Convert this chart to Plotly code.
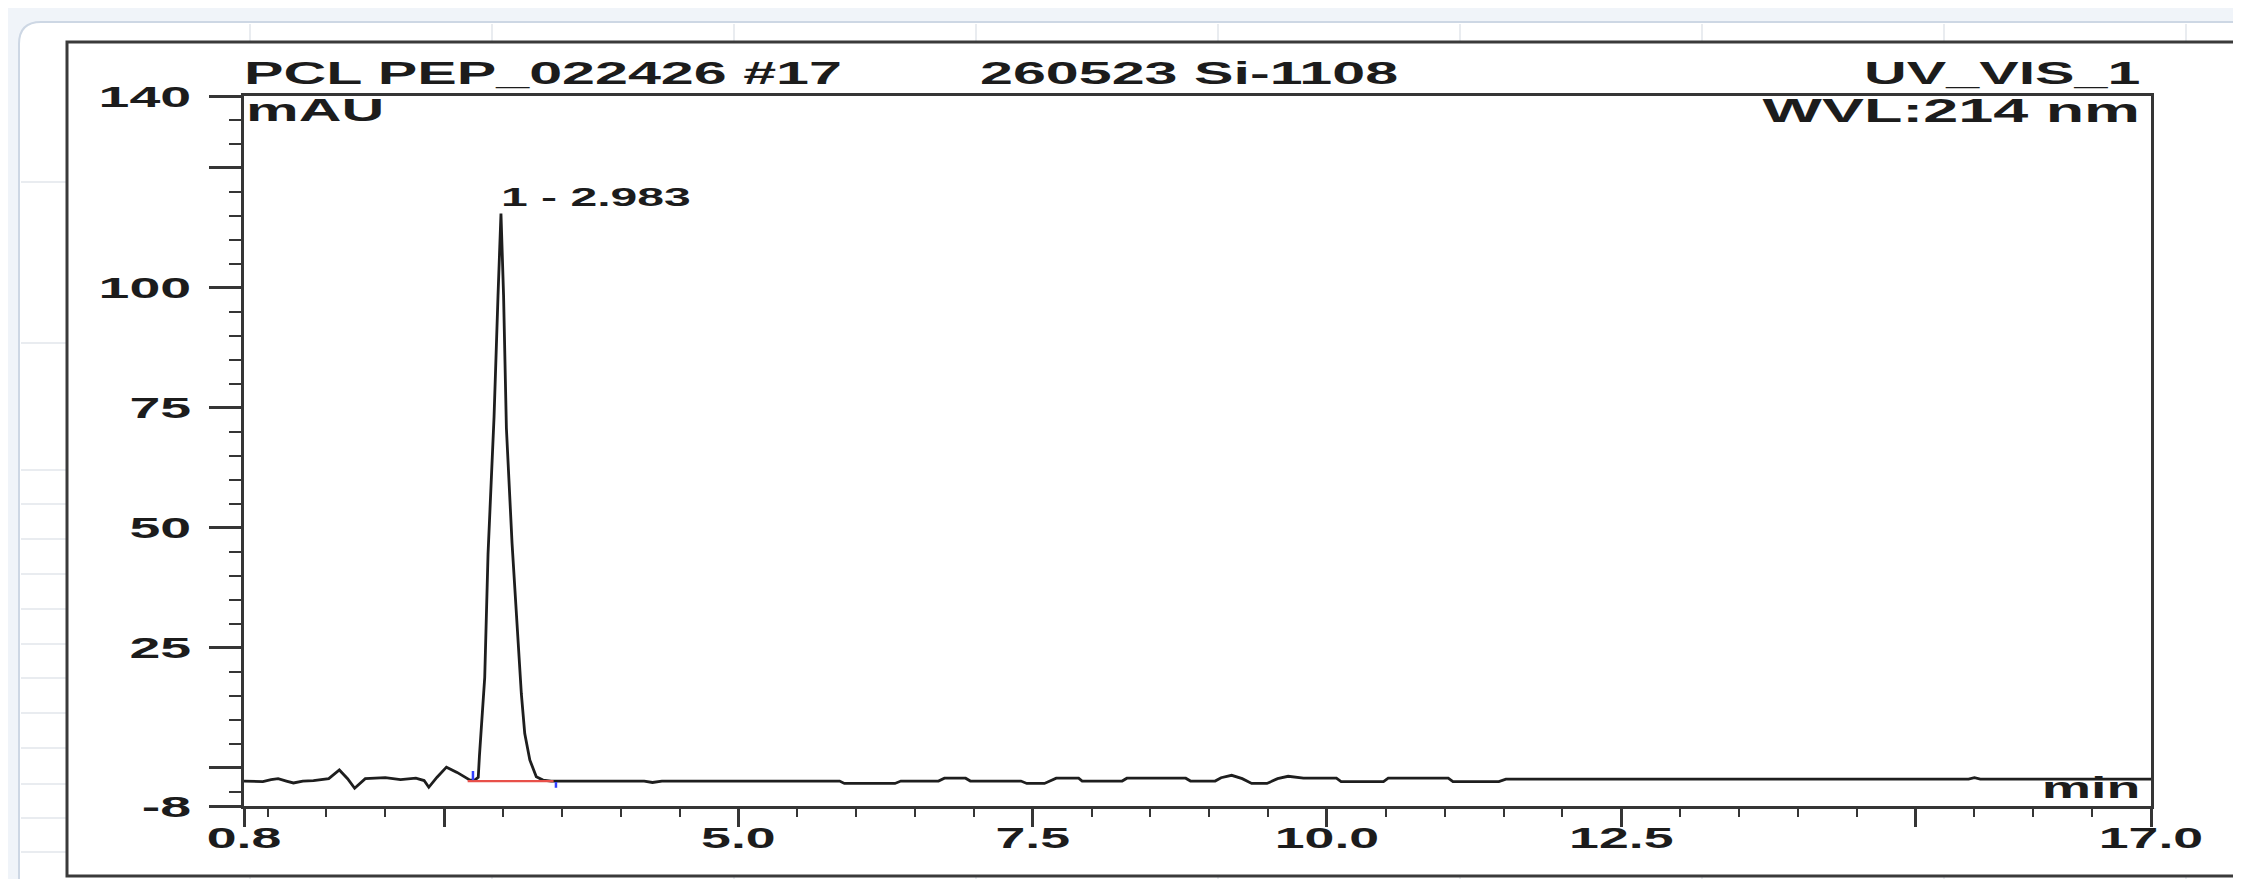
import plotly.graph_objects as go

# ---------------- data ----------------
time_min = [0.80, 0.96, 1.03, 1.09, 1.16, 1.22, 1.30, 1.39, 1.52, 1.61, 1.68, 1.74, 1.83,
            2.00, 2.13, 2.26, 2.33, 2.37, 2.44, 2.52, 2.61, 2.72,
            2.76, 2.79, 2.80, 2.845, 2.873, 2.924, 2.958, 2.983, 3.005, 3.029, 3.077,
            3.122, 3.156, 3.185, 3.228, 3.283, 3.34, 3.41,
            4.20, 4.27, 4.35, 5.86, 5.90, 6.33, 6.38, 6.70, 6.75, 6.93, 6.97, 7.40, 7.45,
            7.60, 7.65, 7.70, 7.89, 7.92, 8.26, 8.30, 8.80, 8.84, 9.05, 9.10, 9.19, 9.28,
            9.36, 9.49, 9.58, 9.67, 9.80, 10.08, 10.12, 10.48, 10.52, 11.03, 11.07, 11.46,
            11.52, 15.45, 15.50, 15.55, 17.00]
signal_mau = [-2.8, -2.9, -2.5, -2.3, -2.8, -3.2, -2.8, -2.7, -2.3, -0.5, -2.3, -4.3, -2.3,
              -2.1, -2.5, -2.2, -2.7, -4.1, -2.0, 0.1, -1.0, -2.6,
              -2.6, -2.0, 2.4, 18.8, 44.5, 73.0, 98.5, 115.5, 98.5, 70.8, 46.8,
              28.9, 15.4, 7.1, 1.6, -1.9, -2.6, -2.8,
              -2.8, -3.1, -2.8, -2.8, -3.3, -3.3, -2.8, -2.8, -2.2, -2.2, -2.8, -2.8, -3.3,
              -3.3, -2.8, -2.2, -2.2, -2.8, -2.8, -2.2, -2.2, -2.8, -2.8, -2.1, -1.6, -2.3,
              -3.3, -3.3, -2.3, -1.8, -2.2, -2.2, -2.9, -2.9, -2.2, -2.2, -2.9, -2.9,
              -2.4, -2.4, -2.1, -2.4, -2.4]

peak_label = "1 - 2.983"
peak_rt = 2.983
peak_height = 115.5
integ_x = [2.70, 3.43]
integ_y = [-2.8, -2.8]
start_marker_x = [2.745, 2.745]
start_marker_y = [-0.7, -2.6]
end_marker_x = [3.45, 3.45]
end_marker_y = [-3.0, -4.2]

x_tickvals = [0.8, 2.5, 5.0, 7.5, 10.0, 12.5, 15.0, 17.0]
x_ticktext = ["0.8", "", "5.0", "7.5", "10.0", "12.5", "", "17.0"]
y_tickvals = [-8, 0, 25, 50, 75, 100, 125, 140]
y_ticktext = ["-8", "", "25", "50", "75", "100", "", "140"]

title_left = "PCL PEP_022426 #17"
title_mid = "260523 Si-1108"
title_right = "UV_VIS_1"
y_unit = "mAU"
wavelength = "WVL:214 nm"
x_unit = "min"

# ---------------- geometry helpers ----------------
W, H = 2241, 879
L, R, T, B = 236, 2143, 88, 798
PW, PH = R - L, B - T


def px(xp):
    return (xp - L) / PW


def py(yp):
    return (B - yp) / PH


FONT = "Liberation Sans, Arial, sans-serif"
INK = "#1c1c1c"
AX = "#353535"

fig = go.Figure()

fig.add_trace(go.Scatter(x=time_min, y=signal_mau, mode="lines",
                         line=dict(color="#1e1e1e", width=2.8), hoverinfo="skip",
                         showlegend=False))
fig.add_trace(go.Scatter(x=integ_x, y=integ_y, mode="lines",
                         line=dict(color="#e8504a", width=2.2),
                         showlegend=False, hoverinfo="skip"))
fig.add_trace(go.Scatter(x=start_marker_x, y=start_marker_y, mode="lines",
                         line=dict(color="#3340ff", width=2.5), showlegend=False, hoverinfo="skip"))
fig.add_trace(go.Scatter(x=end_marker_x, y=end_marker_y, mode="lines",
                         line=dict(color="#3340ff", width=2.5), showlegend=False, hoverinfo="skip"))

shapes = []
# outer white card with rounded left corners
x0, y0, x1, y1, r = 11, 14, 2270, 895, 22
path = (f"M {px(x0 + r)},{py(y0)} L {px(x1)},{py(y0)} L {px(x1)},{py(y1)} "
        f"L {px(x0 + r)},{py(y1)} Q {px(x0)},{py(y1)} {px(x0)},{py(y1 - r)} "
        f"L {px(x0)},{py(y0 + r)} Q {px(x0)},{py(y0)} {px(x0 + r)},{py(y0)} Z")
shapes.append(dict(type="path", xref="paper", yref="paper", path=path,
                   fillcolor="#ffffff", line=dict(color="#cdd7e4", width=2), layer="below"))
# faint spreadsheet grid behind
for gx in range(242, W, 242):
    shapes.append(dict(type="line", xref="paper", yref="paper", x0=px(gx), x1=px(gx),
                       y0=py(16), y1=py(H), line=dict(color="#e2e6eb", width=1.5), layer="below"))
for gy in [174, 335, 462, 496, 531, 566, 601, 636, 670, 705, 740, 776, 810, 844]:
    shapes.append(dict(type="line", xref="paper", yref="paper", x0=px(13), x1=px(W),
                       y0=py(gy), y1=py(gy), line=dict(color="#e2e6eb", width=1.5), layer="below"))
# chart frame
shapes.append(dict(type="rect", xref="paper", yref="paper", x0=px(59), x1=px(2232),
                   y0=py(34), y1=py(868), fillcolor="#ffffff",
                   line=dict(color="#3a3a3a", width=3), layer="below"))

annotations = []


def ann(text, x, y, xanchor, size, xref="paper", yref="paper", yanchor="middle", xshift=0, yshift=0):
    annotations.append(dict(text=text, x=x, y=y, xref=xref, yref=yref, xanchor=xanchor,
                            yanchor=yanchor, showarrow=False, xshift=xshift, yshift=yshift,
                            borderpad=0, font=dict(family=FONT, size=size, color=INK, weight="bold")))


ann(title_left, 0, py(65), "left", 32, xshift=-1)
ann(title_mid, px(971), py(65), "left", 32)
ann(title_right, 1, py(65), "right", 32, xshift=-10)
ann(y_unit, 0, py(102), "left", 32, xshift=1)
ann(wavelength, 1, py(102), "right", 34, xshift=-10)
ann(x_unit, 1, py(779), "right", 30, xshift=-10)
ann(peak_label, peak_rt, peak_height, "left", 26, xref="x", yref="y", yanchor="bottom",
    xshift=-1, yshift=1)

fig.update_layout(
    width=W, height=H,
    margin=dict(l=L, r=W - R, t=T, b=H - B, pad=0),
    paper_bgcolor="#f0f4f9", plot_bgcolor="rgba(0,0,0,0)",
    shapes=shapes, annotations=annotations, showlegend=False,
    xaxis=dict(range=[0.8, 17.0], showgrid=False, zeroline=False, showline=True, mirror=True,
               linecolor=AX, linewidth=2.5, ticks="outside", ticklen=18, tickwidth=2.5,
               tickcolor=AX, tickvals=x_tickvals, ticktext=x_ticktext, ticklabelstandoff=-14,
               tickfont=dict(family=FONT, size=29, color=INK, weight="bold"),
               minor=dict(ticks="outside", ticklen=8, tickwidth=2, tickcolor=AX,
                          dtick=0.5, tick0=0, showgrid=False)),
    yaxis=dict(range=[-8, 140], showgrid=False, zeroline=False, showline=True, mirror=True,
               linecolor=AX, linewidth=2.5, ticks="outside", ticklen=32, tickwidth=2.5,
               tickcolor=AX, tickvals=y_tickvals, ticktext=y_ticktext, ticklabelstandoff=12,
               tickfont=dict(family=FONT, size=30, color=INK, weight="bold"),
               minor=dict(ticks="outside", ticklen=12, tickwidth=2, tickcolor=AX,
                          dtick=5, tick0=0, showgrid=False)),
)

# The reference print is horizontally stretched: widen the glyphs of every label
# (text stays real SVG text; only its rendered advance is stretched).
post_script = """
(function(){
  var gd = document.getElementById('{plot_id}') || document.querySelector('.js-plotly-plot');
  var SX = 1.85;
  var rightSet = {'UV_VIS_1': 1, 'WVL:214 nm': 1, 'min': 1};
  function fix(t, mode){
    var w = t.getComputedTextLength();
    if (!(w > 0)) return;
    var bb = t.getBBox();
    t.setAttribute('lengthAdjust', 'spacingAndGlyphs');
    t.setAttribute('textLength', (w * SX).toFixed(2));
    if (mode === 'start' || mode === 'end') {
      var nx = (mode === 'start') ? bb.x : bb.x + bb.width;
      t.setAttribute('text-anchor', mode);
      t.style.textAnchor = mode;
      t.setAttribute('x', nx);
      t.querySelectorAll('tspan').forEach(function(s){
        if (s.hasAttribute('x')) { s.setAttribute('x', nx); }
      });
    }
  }
  gd.querySelectorAll('.xtick text, .ytick text').forEach(function(t){ fix(t, 'keep'); });
  gd.querySelectorAll('text.annotation-text').forEach(function(t){
    var s = (t.textContent || '').trim();
    fix(t, rightSet[s] ? 'end' : 'start');
  });
})();
"""

fig.write_html("out.html", post_script=post_script)
